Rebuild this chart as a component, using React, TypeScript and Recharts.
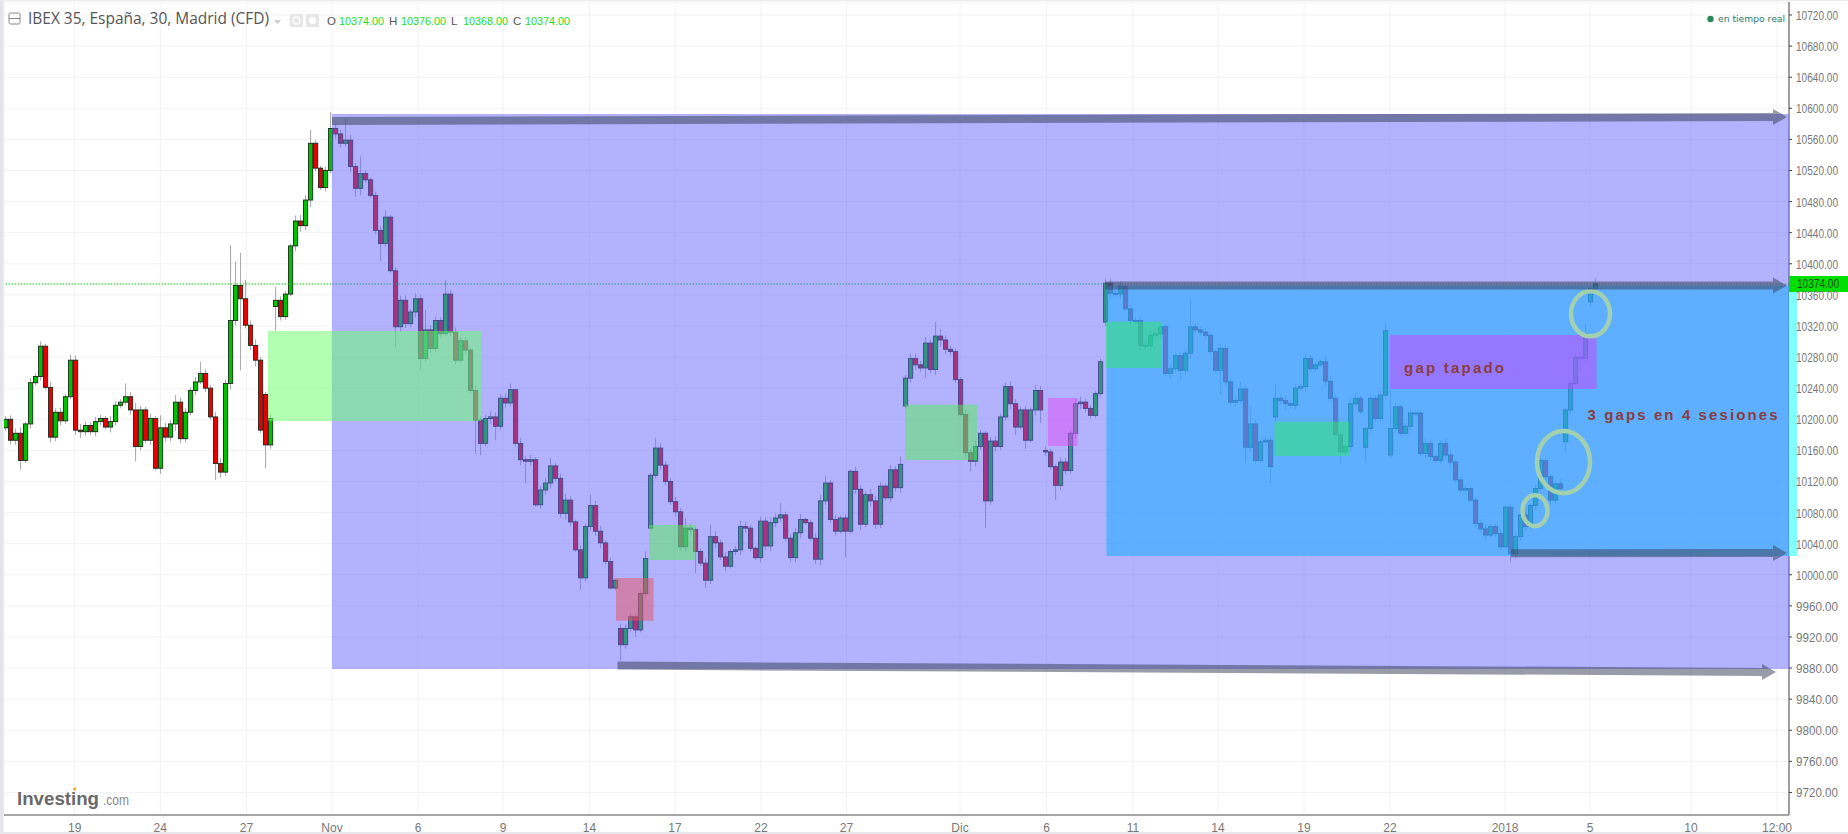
import React from 'react';
import {
    ComposedChart, Bar, XAxis, YAxis, CartesianGrid,
    ReferenceArea, ReferenceLine, ReferenceDot
} from 'recharts';

// one slot = one plotted 30 min candle
const closes = [
    10200, 10173, 10182, 10147, 10194, 10247, 10255, 10294, 10241, 10177,
    10209, 10198, 10229, 10276, 10186, 10184, 10192, 10184, 10197, 10201,
    10190, 10197, 10218, 10222, 10229, 10212, 10165, 10212, 10173, 10201,
    10137, 10189, 10177, 10194, 10222, 10175, 10209, 10237, 10248, 10259,
    10240, 10203, 10143, 10132, 10246, 10327, 10372, 10355, 10321, 10295,
    10276, 10186, 10167, 10201, 10353, 10332, 10361, 10423, 10455, 10449,
    10482, 10555, 10523, 10498, 10520, 10574, 10567, 10555, 10559, 10525,
    10497, 10516, 10508, 10488, 10443, 10426, 10460, 10391, 10319, 10353,
    10323, 10338, 10355, 10278, 10315, 10291, 10327, 10310, 10361, 10312,
    10276, 10301, 10289, 10237, 10199, 10169, 10201, 10203, 10191, 10227,
    10221, 10238, 10169, 10148, 10146, 10148, 10090, 10109, 10118, 10140,
    10124, 10079, 10096, 10068, 10032, 9996, 10062, 10089, 10056, 10041,
    10017, 9983, 9993, 9910, 9931, 9946, 9929, 9976, 10021, 10128,
    10163, 10141, 10120, 10094, 10081, 10036, 10060, 10058, 10030, 10015,
    9993, 10049, 10041, 10023, 10011, 10030, 10032, 10062, 10060, 10034,
    10022, 10069, 10037, 10067, 10073, 10077, 10047, 10022, 10054, 10071,
    10067, 10047, 10020, 10095, 10118, 10071, 10056, 10073, 10056, 10133,
    10110, 10065, 10103, 10095, 10065, 10114, 10099, 10135, 10112, 10142,
    10253, 10278, 10270, 10266, 10298, 10264, 10307, 10302, 10290, 10287,
    10251, 10206, 10157, 10146, 10165, 10182, 10095, 10172, 10165, 10203,
    10242, 10220, 10190, 10212, 10173, 10212, 10237, 10212, 10158, 10139,
    10115, 10145, 10134, 10182, 10220, 10222, 10214, 10205, 10233, 10274,
    10375, 10362, 10361, 10371, 10342, 10327, 10327, 10295, 10295, 10308,
    10310, 10319, 10259, 10265, 10282, 10263, 10285, 10319, 10315, 10312,
    10308, 10287, 10263, 10291, 10248, 10222, 10224, 10239, 10164, 10194,
    10147, 10171, 10173, 10139, 10227, 10224, 10220, 10218, 10240, 10242,
    10278, 10265, 10270, 10274, 10249, 10227, 10180, 10158, 10165, 10220,
    10227, 10210, 10188, 10227, 10201, 10231, 10314, 10188, 10216, 10182,
    10191, 10208, 10208, 10156, 10169, 10152, 10147, 10169, 10154, 10145,
    10122, 10109, 10111, 10096, 10066, 10059, 10051, 10062, 10053, 10036,
    10087, 10027, 10049, 10077, 10062, 10089, 10111, 10147, 10126, 10096,
    10117, 10111, 10212, 10246, 10280, 10278, 10310, 10368, 10374,
];

// usual wick length in points, per candle
const wicks = [
    4, 5, 6, 8, 3, 6, 4, 5, 3, 7, 5, 6, 4, 3, 6, 8, 5, 4, 6, 5,
    3, 7, 5, 4, 3, 6, 9, 5, 4, 6, 3, 7, 6, 5, 9, 6, 5, 4, 6, 3,
    5, 4, 6, 7, 5, 8, 6, 5, 4, 6, 8, 4, 3, 5, 6, 5, 4, 3, 7, 8,
    6, 9, 4, 3, 5, 4, 6, 5, 4, 7, 5, 9, 4, 3, 5, 6, 4, 3, 5, 6,
    6, 4, 7, 5, 4, 6, 5, 4, 3, 5, 6, 4, 5, 3, 6, 5, 4, 7, 6, 5,
    6, 5, 4, 7, 5, 6, 3, 5, 6, 7, 4, 6, 8, 5, 3, 6, 4, 5, 6, 7,
    4, 5, 3, 6, 5, 4, 5, 3, 4, 3, 4, 6, 5, 4, 6, 5, 7, 5, 3, 4,
    6, 5, 7, 4, 6, 3, 5, 7, 6, 4, 3, 6, 5, 7, 6, 5, 4, 5, 6, 7,
    3, 4, 6, 8, 5, 4, 6, 3, 5, 3, 6, 5, 4, 7, 6, 5, 4, 6, 5, 7,
    4, 6, 6, 5, 8, 5, 7, 9, 6, 5, 4, 3, 6, 5, 7, 4, 3, 5, 6, 4,
    5, 7, 6, 4, 5, 3, 7, 6, 5, 4, 3, 6, 5, 4, 6, 7, 5, 4, 3, 4,
    5, 6, 4, 6, 3, 5, 4, 6, 5, 7, 4, 5, 3, 6, 4, 5, 6, 7, 5, 4,
    5, 4, 3, 6, 5, 4, 6, 5, 4, 6, 5, 3, 5, 4, 6, 5, 7, 4, 5, 3,
    6, 5, 4, 3, 7, 6, 4, 5, 3, 6, 5, 4, 3, 6, 4, 5, 3, 4, 5, 3,
    4, 5, 3, 4, 6, 5, 3, 4, 6, 5, 3, 4, 5, 3, 4, 5, 6, 3, 4, 5,
    3, 4, 6, 5, 4, 3, 5, 4, 3, 5, 4, 6, 3, 5, 4, 6, 5, 4, 3,
];

// candles that open away from the previous close
const gapOpens: [number, number][] = [
    [0, 10189], [52, 10232], [54, 10345], [123, 9931], [129, 10060],
    [180, 10217], [208, 10160], [220, 10325], [254, 10203], [272, 10164],
    [277, 10154], [312, 10171], [317, 10351],
];

// long wicks, slot and price
const spikeHighs: [number, number][] = [
    [7, 10300], [13, 10283], [24, 10246], [31, 10205], [39, 10274], [45, 10424],
    [46, 10403], [47, 10414], [48, 10379], [54, 10370], [61, 10572], [65, 10595],
    [68, 10587], [71, 10538], [76, 10469], [84, 10340], [88, 10379], [101, 10246],
    [102, 10212], [109, 10150], [117, 10103], [128, 10030], [130, 10176], [136, 10073],
    [141, 10064], [155, 10092], [164, 10127], [179, 10152], [186, 10325], [220, 10381],
    [237, 10355], [247, 10249], [249, 10216], [254, 10246], [276, 10325], [277, 10238],
    [316, 10323], [318, 10381],
];
const spikeLows: [number, number][] = [
    [3, 10135], [26, 10146], [42, 10122], [47, 10263], [52, 10137], [54, 10314],
    [70, 10486], [75, 10403], [78, 10293], [83, 10263], [94, 10155], [95, 10154],
    [98, 10173], [104, 10118], [115, 9980], [121, 9981], [123, 9890], [126, 9920],
    [138, 10002], [140, 9983], [168, 10022], [171, 10058], [184, 10253], [193, 10133],
    [196, 10060], [202, 10180], [204, 10162], [207, 10195], [210, 10096], [235, 10250],
    [243, 10231], [248, 10144], [253, 10118], [267, 10143], [272, 10145], [301, 10017],
    [312, 10158], [315, 10261], [317, 10345],
];

const priceTicks = [
    10720, 10680, 10640, 10600, 10560, 10520, 10480, 10440, 10400, 10360, 10320, 10280, 10240,
    10200, 10160, 10120, 10080, 10040, 10000, 9960, 9920, 9880, 9840, 9800, 9760, 9720,
];
const timeSlots = [
    13.74, 30.86, 48.1, 65.2, 82.4, 99.4, 116.7, 133.8, 151, 168.1,
    190.8, 208.1, 225.4, 242.4, 259.6, 276.8, 299.8, 316.8, 337, 354.2,
];
const timeLabels = [
    '19', '24', '27', 'Nov', '6', '9', '14', '17', '22', '27',
    'Dic', '6', '11', '14', '19', '22', '2018', '5', '10', '12:00',
];

const lastPrice = 10374;
const ohlcLabels = ['O', 'H', 'L', 'C'];
const ohlcValues = ['10374.00', '10376.00', '10368.00', '10374.00'];

// slot from, slot to, top price, bottom price
const rangeFull = [65.2, 356.6, 10592.7, 9878.8];
const rangeRecent = [220.1, 356.6, 10372, 10024];
const rangeRecentEdge = [356.6, 358.2, 10372, 10024];
const lightGapZone = [52.4, 95, 10313.6, 10197.8];
const gapZones = [
    [128.6, 137.9, 10064, 10019],
    [179.8, 194.2, 10218.8, 10147.6],
];
const blueGapZones = [
    [220, 231.2, 10325.5, 10266],
    [253.7, 268.6, 10196.9, 10152.8],
];
const redZone = [122, 129.5, 9995.9, 9941];
const magentaZone = [208.4, 214.3, 10227.4, 10165.7];
const coveredGap = [276.8, 318.1, 10308.4, 10239];
const gapCircles = [
    [303.3, 308.3, 10102.4, 10062.5],
    [306.2, 316.8, 10185, 10105],
    [313, 320.8, 10364.6, 10306.7],
];
// slot from, price from, slot to, price to
const arrows = [
    [65.2, 10583.7, 356.2, 10588.8],
    [219.8, 10372, 356.2, 10372],
    [301, 10027.6, 356.2, 10028],
    [122.3, 9883.2, 354, 9875],
];

const highOf = new Map(spikeHighs);
const lowOf = new Map(spikeLows);
const openOf = new Map(gapOpens);
const candles = closes.map((close, i) => {
    const open = openOf.get(i) ?? closes[i - 1];
    return {
        slot: i,
        open,
        close,
        high: highOf.get(i) ?? Math.max(open, close) + wicks[i],
        low: lowOf.get(i) ?? Math.min(open, close) - wicks[i],
    };
});

const Candle = (props: any) => {
    const { x, y, width, height, payload } = props;
    const { open, close, high, low } = payload;
    const ppp = height / (high - low);
    const top = y + (high - Math.max(open, close)) * ppp;
    const h = Math.max(Math.abs(open - close) * ppp, 1);
    const cx = x + width / 2;
    return (
        <g>
            <line x1={cx} x2={cx} y1={y} y2={y + height} stroke="#777" strokeOpacity={0.65} />
            <rect
                x={x} y={top} width={width} height={h}
                fill={close >= open ? '#00c000' : '#e60000'}
                stroke="#1c2a1c" strokeWidth={0.9}
            />
        </g>
    );
};

const PriceTick = (props: any) => {
    const { x, y, payload } = props;
    return (
        <text x={x + 2} y={y + 5} fontSize={12} fill="#777" fontFamily="Liberation Sans" textLength={42} lengthAdjust="spacingAndGlyphs">
            {payload.value.toFixed(2)}
        </text>
    );
};

const Arrow = (props: any) => {
    const { x1, y1, x2, y2 } = props;
    const head = 14;
    return (
        <polygon
            points={`${x1},${y1 - 4} ${x2 - head},${y2 - 4} ${x2 - head},${y2 - 8} ${x2},${y2} ${x2 - head},${y2 + 8} ${x2 - head},${y2 + 4} ${x1},${y1 + 4}`}
            fill="#3a4258" fillOpacity={0.52}
        />
    );
};

const Ring = (props: any) => {
    const { x, y, width, height } = props;
    return (
        <ellipse
            cx={x + width / 2} cy={y + height / 2} rx={width / 2} ry={height / 2}
            fill="none" stroke="#a3d0ae" strokeWidth={4.5}
        />
    );
};

const Note = (text: string, width: number) => (props: any) => (
    <text
        x={props.cx} y={props.cy} fontSize={15} fontWeight="bold" fill="#8a3d3d"
        fontFamily="Liberation Sans" textLength={width} lengthAdjust="spacing"
    >
        {text}
    </text>
);

const PriceBadge = (props: any) => (
    <g>
        <rect x={props.cx} y={props.cy - 8} width={59} height={16} fill="#00e000" />
        <text x={props.cx + 8} y={props.cy + 4} fontSize={12} fill="#1c4a1c" fontFamily="Liberation Sans" textLength={42} lengthAdjust="spacingAndGlyphs">
            {lastPrice.toFixed(2)}
        </text>
    </g>
);

const zone = (z: number[], fill: string, opacity: number, key: string) => (
    <ReferenceArea
        key={key} x1={z[0]} x2={z[1]} y1={z[2]} y2={z[3]}
        fill={fill} fillOpacity={opacity} stroke="none" ifOverflow="visible" zIndex={1000}
    />
);

const ChartHeader = () => (
    <svg width={1848} height={834} style={{ position: 'absolute', left: 0, top: 0, pointerEvents: 'none' }}>
        <rect x={0} y={0} width={3.5} height={834} fill="#e3e3ea" />
        <rect x={0} y={0} width={1848} height={1} fill="#ececf0" />
        <rect x={0} y={832} width={1848} height={2} fill="#e8e8ec" />
        <rect x={9} y={13} width={11} height={11} rx={1.5} fill="none" stroke="#888" />
        <line x1={9} x2={20} y1={18.5} y2={18.5} stroke="#888" />
        <text x={28} y={24} fontSize={16} fill="#555" fontFamily="Open Sans" textLength={241} lengthAdjust="spacingAndGlyphs">
            IBEX 35, España, 30, Madrid (CFD)
        </text>
        <polygon points="274,20 281,20 277.5,24" fill="#ccc" />
        <rect x={290} y={14} width={13} height={13} fill="#e6e6e6" />
        <circle cx={296.5} cy={20.5} r={3.5} fill="none" stroke="#fff" strokeWidth={1.5} />
        <rect x={306} y={14} width={13} height={13} fill="#e6e6e6" />
        <circle cx={312.5} cy={20.5} r={3.5} fill="#fff" />
        {ohlcLabels.map((label, i) => (
            <g key={label}>
                <text x={327 + i * 62} y={25} fontSize={11.5} fill="#555" fontFamily="Liberation Sans">{label}</text>
                <text x={339 + i * 62} y={25} fontSize={11.5} fill="#22dd22" fontFamily="Liberation Sans" textLength={45} lengthAdjust="spacingAndGlyphs">{ohlcValues[i]}</text>
            </g>
        ))}
        <circle cx={1710.5} cy={19} r={3.2} fill="#2a8a5a" />
        <text x={1718} y={22} fontSize={9} fill="#2a7a6a" fontFamily="DejaVu Sans" textLength={67} lengthAdjust="spacingAndGlyphs">en tiempo real</text>
        <text x={17} y={805} fontSize={19} fontWeight="bold" fill="#6a6a6a" fontFamily="Liberation Sans" textLength={82} lengthAdjust="spacingAndGlyphs">Investing</text>
        <circle cx={74.7} cy={789} r={1.6} fill="#f0a030" />
        <text x={103} y={805} fontSize={14} fill="#888" fontFamily="Liberation Sans" textLength={26} lengthAdjust="spacingAndGlyphs">.com</text>
    </svg>
);

export default function App() {
    return (
        <div style={{ position: 'absolute', left: 0, top: 0, width: 1848, height: 834, background: '#fff' }}>
            <ComposedChart
                width={1848} height={834} data={candles}
                margin={{ top: 2, right: 0, bottom: 0, left: 4 }}
            >
                <CartesianGrid stroke="#f2f2f4" />
                <XAxis
                    dataKey="slot" type="number" domain={[-0.4, 356.6]} allowDataOverflow
                    ticks={timeSlots} interval={0} height={19} tickLine={false}
                    axisLine={{ stroke: '#555' }}
                    tickFormatter={(v: number) => timeLabels[timeSlots.indexOf(v)]}
                    tick={{ fontSize: 12, fill: '#777', fontFamily: 'Liberation Sans' }}
                />
                <YAxis
                    type="number" orientation="right" domain={[9691, 10736.7]} allowDataOverflow
                    ticks={priceTicks} interval={0} width={59} tick={<PriceTick />}
                    tickSize={3} axisLine={{ stroke: '#444' }} tickLine={{ stroke: '#444' }}
                />
                <ReferenceLine y={lastPrice} stroke="#00d000" strokeDasharray="1.5 1.5" />
                <Bar
                    dataKey={(d: any) => [d.low, d.high]} barSize={4.2}
                    shape={<Candle />} isAnimationActive={false}
                />
                {zone(rangeFull, '#6666ff', 0.5, 'full')}
                {zone(rangeRecent, '#26aeff', 0.6, 'recent')}
                {zone(rangeRecentEdge, '#80ffff', 1, 'recent-edge')}
                {zone(lightGapZone, '#66ff66', 0.5, 'light-gap')}
                {gapZones.map((z, i) => zone(z, '#56ee58', 0.5, `gap-${i}`))}
                {blueGapZones.map((z, i) => zone(z, '#2beb69', 0.5, `blue-gap-${i}`))}
                {zone(redZone, '#ea545f', 0.5, 'red')}
                {zone(magentaZone, '#e04af5', 0.5, 'magenta')}
                {zone(coveredGap, '#cb41ff', 0.5, 'covered')}
                {gapCircles.map((c, i) => (
                    <ReferenceArea
                        key={`ring-${i}`} x1={c[0]} x2={c[1]} y1={c[2]} y2={c[3]}
                        shape={<Ring />} ifOverflow="visible" zIndex={1100}
                    />
                ))}
                {arrows.map((a, i) => (
                    <ReferenceLine
                        key={`arrow-${i}`}
                        segment={[{ x: a[0], y: a[1] }, { x: a[2], y: a[3] }]}
                        shape={<Arrow />} ifOverflow="visible" zIndex={1100}
                    />
                ))}
                <ReferenceDot x={279.6} y={10259} r={0} ifOverflow="visible" zIndex={1200} shape={Note('gap tapado', 100)} />
                <ReferenceDot x={316.3} y={10199} r={0} ifOverflow="visible" zIndex={1200} shape={Note('3 gaps en 4 sesiones', 190)} />
                <ReferenceDot x={356.6} y={lastPrice} r={0} ifOverflow="visible" zIndex={1200} shape={<PriceBadge />} />
            </ComposedChart>
            <ChartHeader />
        </div>
    );
}
